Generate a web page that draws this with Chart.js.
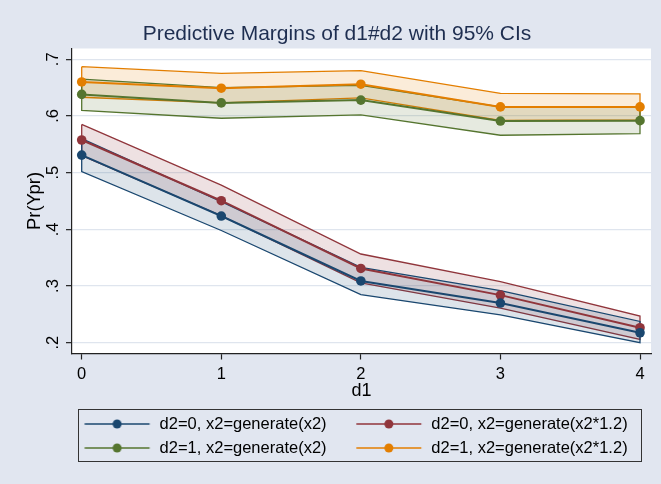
<!DOCTYPE html>
<html>
<head>
<meta charset="utf-8">
<script src="https://cdn.jsdelivr.net/npm/chart.js@4.4.1/dist/chart.umd.min.js"></script>
<style>
  html, body { margin: 0; padding: 0; background: #e1e6f0; }
</style>
</head>
<body>
<canvas id="margins" width="661" height="484"></canvas>
<script>
// levels of d1 and axis ticks
var d1Levels = [0, 1, 2, 3, 4];
var xTickLabels = ['0', '1', '2', '3', '4'];
var yTicks = [0.2, 0.3, 0.4, 0.5, 0.6, 0.7];
var yTickLabels = ['.2', '.3', '.4', '.5', '.6', '.7'];

var seriesNames = [
    'd2=0, x2=generate(x2)',
    'd2=0, x2=generate(x2*1.2)',
    'd2=1, x2=generate(x2)',
    'd2=1, x2=generate(x2*1.2)'
];

// margins and 95% CI bounds
var marginA = [0.531, 0.4235, 0.309, 0.270, 0.2176];
var lowerA  = [0.502, 0.398, 0.2847, 0.249, 0.200];
var upperA  = [0.560, 0.449, 0.333, 0.292, 0.2375];

var marginB = [0.5576, 0.4505, 0.331, 0.284, 0.2264];
var lowerB  = [0.530, 0.424, 0.3055, 0.261, 0.206];
var upperB  = [0.585, 0.478, 0.3565, 0.3076, 0.247];

var marginC = [0.638, 0.623, 0.628, 0.591, 0.5917];
var lowerC  = [0.610, 0.596, 0.602, 0.566, 0.5687];
var upperC  = [0.665, 0.650, 0.654, 0.616, 0.615];

var marginD = [0.660, 0.649, 0.656, 0.616, 0.616];
var lowerD  = [0.633, 0.623, 0.632, 0.592, 0.593];
var upperD  = [0.687, 0.675, 0.680, 0.640, 0.639];

var lineColors = ['#1a476f', '#90353b', '#55752f', '#e37e00'];
var areaColors = ['rgba(26,71,111,0.15)', 'rgba(144,53,59,0.15)', 'rgba(85,117,47,0.15)', 'rgba(227,126,0,0.15)'];

var margins = [marginA, marginB, marginC, marginD];
var lowers = [lowerA, lowerB, lowerC, lowerD];
var uppers = [upperA, upperB, upperC, upperD];

Chart.defaults.font.family = "'Liberation Sans', Arial, sans-serif";
Chart.defaults.color = '#000';

function points(values) {
    return d1Levels.map(function(x, i) { return {x: x, y: values[i]}; });
}

// closed outline of a CI band: upper bound left to right, lower bound back
function band(lo, hi) {
    var pts = points(hi);
    for (var i = d1Levels.length - 1; i >= 0; i--) pts.push({x: d1Levels[i], y: lo[i]});
    pts.push({x: d1Levels[0], y: hi[0]});
    return pts;
}

// legend symbol: line with a marker in the middle
function legendSymbol(color) {
    var cv = document.createElement('canvas');
    cv.width = 89; cv.height = 12;
    var g = cv.getContext('2d');
    g.strokeStyle = color;
    g.lineWidth = 1.5;
    g.beginPath(); g.moveTo(22.25, 6); g.lineTo(87.25, 6); g.stroke();
    g.fillStyle = color;
    g.beginPath(); g.arc(54.75, 6, 4.5, 0, 2 * Math.PI); g.fill();
    return cv;
}
var legendSymbols = lineColors.map(legendSymbol);

var datasets = [];
seriesNames.forEach(function(name, k) {
    datasets.push({
        label: name,
        data: points(margins[k]),
        borderColor: lineColors[k],
        backgroundColor: lineColors[k],
        borderWidth: 2,
        pointRadius: 4.8,
        pointBorderWidth: 0,
        pointBackgroundColor: lineColors[k],
        fill: false
    });
});
seriesNames.forEach(function(name, k) {
    datasets.push({
        label: name + ' CI',
        data: band(lowers[k], uppers[k]),
        borderColor: lineColors[k],
        backgroundColor: areaColors[k],
        borderWidth: 1.3,
        pointRadius: 0,
        fill: 'shape'
    });
});

var stataLook = {
    id: 'stataLook',
    beforeDraw: function(chart) {
        var c = chart.ctx, a = chart.chartArea;
        c.save();
        c.fillStyle = '#e1e6f0';
        c.fillRect(0, 0, chart.width, chart.height);
        c.fillStyle = '#ffffff';
        c.fillRect(a.left, a.top, a.right - a.left, a.bottom - a.top);
        c.restore();
    },
    afterLayout: function(chart) {
        // legend sits a bit right of the title centre, like Stata does
        chart.legend.left += 8;
        chart.legend.right += 8;
    },
    afterDraw: function(chart) {
        var c = chart.ctx, a = chart.chartArea, ys = chart.scales.y, lg = chart.legend;
        c.save();
        // rotated y tick labels
        c.font = "16.5px 'Liberation Sans', Arial, sans-serif";
        c.fillStyle = '#000';
        c.textAlign = 'center';
        c.textBaseline = 'middle';
        yTicks.forEach(function(v, i) {
            c.save();
            c.translate(53, ys.getPixelForValue(v));
            c.rotate(-Math.PI / 2);
            c.fillText(yTickLabels[i], 0, 0);
            c.restore();
        });
        // legend frame
        c.strokeStyle = '#333';
        c.lineWidth = 1;
        c.strokeRect(Math.round(a.left + 6) + 0.5, Math.round(lg.top + 1) + 0.5, 563, 52);
        c.restore();
    }
};

var chart = new Chart(document.getElementById('margins').getContext('2d'), {
    type: 'line',
    data: { datasets: datasets },
    plugins: [stataLook],
    options: {
        responsive: false,
        animation: false,
        layout: { padding: { left: 13, right: 0, top: 0, bottom: 17.75 } },
        scales: {
            x: {
                type: 'linear',
                min: -0.0695,
                max: 4.0788,
                afterBuildTicks: function(scale) {
                    scale.ticks = d1Levels.map(function(v) { return {value: v}; });
                },
                afterFit: function(scale) {
                    scale.height = 54.75;
                    scale.paddingLeft = 0;
                    scale.paddingRight = 10;
                },
                ticks: {
                    padding: 5,
                    font: { size: 16.5 },
                    callback: function(value, index) { return xTickLabels[index]; }
                },
                grid: { drawOnChartArea: false, drawTicks: true, tickLength: 6, tickColor: '#222', tickWidth: 1.2 },
                border: { display: true, color: '#222', width: 1.2 },
                title: { display: true, text: 'd1', font: { size: 18 }, padding: { top: 0, bottom: 6.6 } }
            },
            y: {
                type: 'linear',
                min: 0.181,
                max: 0.719,
                afterBuildTicks: function(scale) {
                    scale.ticks = yTicks.map(function(v) { return {value: v}; });
                },
                afterFit: function(scale) {
                    scale.width = 59;
                },
                ticks: { display: false },
                grid: { color: '#dfe5ee', lineWidth: 1.3, drawTicks: true, tickLength: 6, tickColor: '#222', tickWidth: 1.2 },
                border: { display: true, color: '#222', width: 1.2 },
                title: { display: true, text: 'Pr(Ypr)', font: { size: 18.5 }, padding: { top: 10.5, bottom: 0 } }
            }
        },
        plugins: {
            title: {
                display: true,
                text: 'Predictive Margins of d1#d2 with 95% CIs',
                color: '#1e2e50',
                font: { size: 21, weight: 'normal' },
                padding: { top: 21.2, bottom: 2.1 }
            },
            legend: {
                position: 'bottom',
                labels: {
                    usePointStyle: true,
                    pointStyleWidth: 89,
                    padding: 7.5,
                    color: '#000',
                    font: { size: 16.5 },
                    filter: function(item) { return item.datasetIndex < seriesNames.length; },
                    generateLabels: function(chart) {
                        var items = Chart.defaults.plugins.legend.labels.generateLabels(chart);
                        items.forEach(function(item) {
                            if (item.datasetIndex < legendSymbols.length) item.pointStyle = legendSymbols[item.datasetIndex];
                        });
                        return items;
                    }
                }
            },
            tooltip: { enabled: false }
        }
    }
});
</script>
</body>
</html>
